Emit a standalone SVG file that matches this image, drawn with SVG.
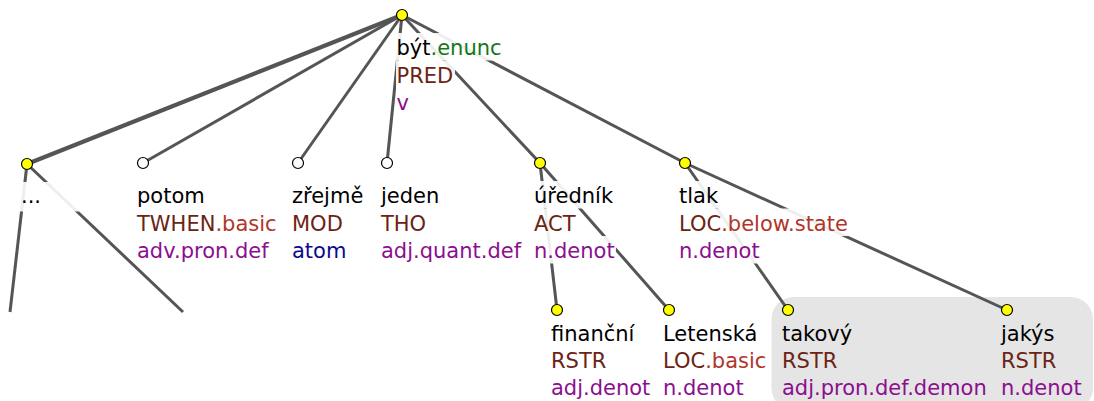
<svg xmlns="http://www.w3.org/2000/svg" width="1094" height="401" viewBox="0 0 1094 401">
<style>
text{font-family:"DejaVu Sans","Liberation Sans",sans-serif;font-size:21px;fill:#000}
.f{fill:#6b2414}.s{fill:#b0362a}.g{fill:#8b0f8f}.gr{fill:#14781a}.a{fill:#0a0a8f}
.e{stroke:#555;stroke-width:3;fill:none}
.bg{fill:#fff;fill-opacity:0.9}
.y{fill:#ffff00;stroke:#000;stroke-width:1.2}
.w{fill:#fff;stroke:#000;stroke-width:1.2}
</style>
<rect x="771.5" y="297" width="321.5" height="113" rx="22" fill="#e5e5e5"/>
<g id="connectors">
<line class="e" x1="402" y1="15" x2="27" y2="164" style="stroke-width:4.2"/>
<line class="e" x1="402" y1="15" x2="143" y2="163"/>
<line class="e" x1="402" y1="15" x2="298" y2="163"/>
<line class="e" x1="402" y1="15" x2="387" y2="163"/>
<line class="e" x1="402" y1="15" x2="540" y2="163"/>
<line class="e" x1="402" y1="15" x2="685" y2="163"/>
<line class="e" x1="27" y1="164" x2="10" y2="312"/>
<line class="e" x1="27" y1="164" x2="183" y2="312"/>
<line class="e" x1="540" y1="163" x2="557" y2="310"/>
<line class="e" x1="540" y1="163" x2="669" y2="310"/>
<line class="e" x1="685" y1="163" x2="788" y2="310"/>
<line class="e" x1="685" y1="163" x2="1007" y2="310"/>
</g>
<g id="n-byt">
<rect class="bg" x="396" y="33" width="107" height="27.5"/>
<rect class="bg" x="396" y="60.5" width="59" height="27.5"/>
<rect class="bg" x="396" y="88" width="15" height="27.5"/>
<text x="396.5" y="55">být<tspan class="gr">.enunc</tspan></text>
<text x="396.5" y="82.5" class="f">PRED</text>
<text x="396.5" y="110" class="g">v</text>
<circle class="y" cx="402" cy="15" r="5.5"/>
</g>
<g id="n-dots">
<rect class="bg" x="20" y="182" width="60" height="29.5"/>
<text x="21" y="203">...</text>
<circle class="y" cx="27" cy="164" r="5.5"/>
</g>
<g id="n-potom">
<rect class="bg" x="136" y="181" width="70" height="27.5"/>
<rect class="bg" x="136" y="208.5" width="142" height="27.5"/>
<rect class="bg" x="136" y="236" width="137" height="27.5"/>
<text x="137" y="203">potom</text>
<text x="137" y="230.5" class="f">TWHEN<tspan class="s">.basic</tspan></text>
<text x="137" y="258" class="g">adv.pron.def</text>
<circle class="w" cx="143" cy="163" r="5.5"/>
</g>
<g id="n-zrejme">
<rect class="bg" x="291" y="181" width="74" height="27.5"/>
<rect class="bg" x="291" y="208.5" width="53" height="27.5"/>
<rect class="bg" x="291" y="236" width="56" height="27.5"/>
<text x="292" y="203">zřejmě</text>
<text x="292" y="230.5" class="f">MOD</text>
<text x="292" y="258" class="a">atom</text>
<circle class="w" cx="298" cy="163" r="5.5"/>
</g>
<g id="n-jeden">
<rect class="bg" x="380" y="181" width="60" height="27.5"/>
<rect class="bg" x="380" y="208.5" width="47" height="27.5"/>
<rect class="bg" x="380" y="236" width="142" height="27.5"/>
<text x="381" y="203">jeden</text>
<text x="381" y="230.5" class="f">THO</text>
<text x="381" y="258" class="g">adj.quant.def</text>
<circle class="w" cx="387" cy="163" r="5.5"/>
</g>
<g id="n-urednik">
<rect class="bg" x="533" y="181" width="82" height="27.5"/>
<rect class="bg" x="533" y="208.5" width="44" height="27.5"/>
<rect class="bg" x="533" y="236" width="83" height="27.5"/>
<text x="534" y="203">úředník</text>
<text x="534" y="230.5" class="f">ACT</text>
<text x="534" y="258" class="g">n.denot</text>
<circle class="y" cx="540" cy="163" r="5.5"/>
</g>
<g id="n-tlak">
<rect class="bg" x="678" y="181" width="41" height="27.5"/>
<rect class="bg" x="678" y="208.5" width="174" height="27.5"/>
<rect class="bg" x="678" y="236" width="83" height="27.5"/>
<text x="679" y="203">tlak</text>
<text x="679" y="230.5" class="f">LOC<tspan class="s">.below.state</tspan></text>
<text x="679" y="258" class="g">n.denot</text>
<circle class="y" cx="685" cy="163" r="5.5"/>
</g>
<g id="n-financni">
<rect class="bg" x="550" y="319" width="86" height="27"/>
<rect class="bg" x="550" y="346" width="57" height="27"/>
<rect class="bg" x="550" y="373" width="101" height="27"/>
<text x="551" y="341">finanční</text>
<text x="551" y="368" class="f">RSTR</text>
<text x="551" y="394.5" class="g">adj.denot</text>
<circle class="y" cx="557" cy="310" r="5.5"/>
</g>
<g id="n-letenska">
<rect class="bg" x="662" y="319" width="97" height="27"/>
<rect class="bg" x="662" y="346" width="106" height="27"/>
<rect class="bg" x="662" y="373" width="83" height="27"/>
<text x="663" y="341">Letenská</text>
<text x="663" y="368" class="f">LOC<tspan class="s">.basic</tspan></text>
<text x="663" y="394.5" class="g">n.denot</text>
<circle class="y" cx="669" cy="310" r="5.5"/>
</g>
<g id="n-takovy">
<text x="782" y="341">takový</text>
<text x="782" y="368" class="f">RSTR</text>
<text x="782" y="394.5" class="g">adj.pron.def.demon</text>
<circle class="y" cx="788" cy="310" r="5.5"/>
</g>
<g id="n-jakys">
<text x="1001" y="341">jakýs</text>
<text x="1001" y="368" class="f">RSTR</text>
<text x="1001" y="394.5" class="g">n.denot</text>
<circle class="y" cx="1007" cy="310" r="5.5"/>
</g>
</svg>
